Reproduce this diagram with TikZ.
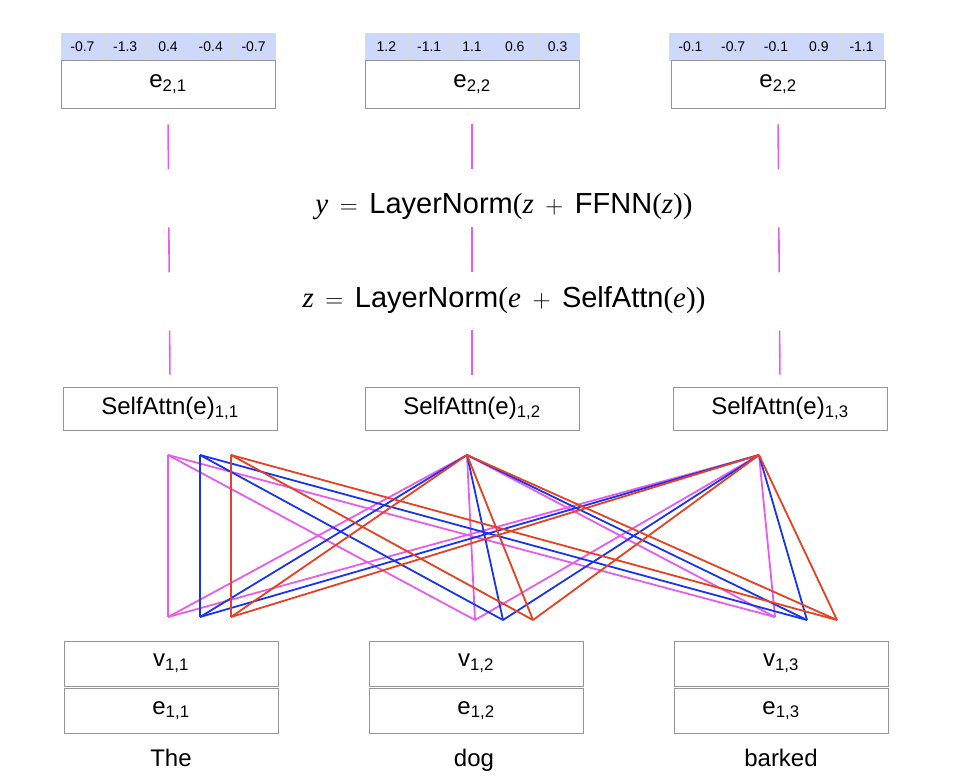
\documentclass[tikz,border=0pt]{standalone}
\usepackage{fontspec}
\setmainfont{Liberation Sans}
\newfontfamily\serifit{Liberation Serif}
\usepackage{tikz}
\usetikzlibrary{positioning}

\definecolor{cellblue}{RGB}{206,216,250}
\definecolor{attnpink}{RGB}{232,92,236}
\definecolor{attnblue}{RGB}{24,52,240}
\definecolor{attnred}{RGB}{232,64,32}
\definecolor{boxgray}{RGB}{150,150,150}
\newcommand{\mv}[1]{{\serifit\itshape #1}}
\newcommand{\fsz}[1]{\fontsize{#1}{#1}\selectfont}

\begin{document}
\begin{tikzpicture}[x=1pt, y=-1pt,
    wordbox/.style={draw=boxgray, line width=0.8pt, minimum width=214pt, minimum height=45pt, inner sep=0pt, font=\fsz{24}},
    cell/.style={draw=gray!30, fill=cellblue, line width=0.6pt, minimum width=42.8pt, minimum height=27pt, inner sep=0pt, font=\fsz{14}},
    eqn/.style={font=\fsz{29}},
    attn/.style={line width=1.8pt},
    skip/.style={attnpink, line width=1.6pt, dash pattern=on 45pt off 58pt}]
    \useasboundingbox (0,0) rectangle (954,780);

    % Vecteurs de sortie (ligne du haut)
    \foreach \v [count=\k] in {-0.7,-1.3,0.4,-0.4,-0.7}
        \node[cell] (vecA-\k) at ({61+42.8*(\k-0.5)},46.5) {\v};
    \foreach \v [count=\k] in {1.2,-1.1,1.1,0.6,0.3}
        \node[cell] (vecB-\k) at ({365+42.8*(\k-0.5)},46.5) {\v};
    \foreach \v [count=\k] in {-0.1,-0.7,-0.1,0.9,-1.1}
        \node[cell] (vecC-\k) at ({669+42.8*(\k-0.5)},46.5) {\v};

    \node[wordbox, minimum height=48pt] (out1) at (168,84) {e\textsubscript{2,1}};
    \node[wordbox, minimum height=48pt] (out2) at (472,84) {e\textsubscript{2,2}};
    \node[wordbox, minimum height=48pt] (out3) at (778,84) {e\textsubscript{2,2}};

    % Equations
    \node[eqn] (ffnn) at (504,207) {\mv{y}\hspace{0.4em}$=$\hspace{0.4em}LayerNorm{\serifit(}\mv{z}\hspace{0.4em}$+$\hspace{0.4em}FFNN{\serifit(}\mv{z}{\serifit))}};
    \node[eqn] (norm) at (504,300) {\mv{z}\hspace{0.4em}$=$\hspace{0.4em}LayerNorm{\serifit(}\mv{e}\hspace{0.4em}$+$\hspace{0.4em}SelfAttn{\serifit(}\mv{e}{\serifit))}};

    % Self-attention
    \node[wordbox, minimum height=43pt] (sa1) at (170,408.5) {SelfAttn(e)\textsubscript{1,1}};
    \node[wordbox, minimum height=43pt] (sa2) at (472,408.5) {SelfAttn(e)\textsubscript{1,2}};
    \node[wordbox, minimum height=43pt] (sa3) at (780,408.5) {SelfAttn(e)\textsubscript{1,3}};

    \foreach \i in {1,2,3}
        \draw[skip, shorten <=16pt, shorten >=12pt] (out\i.south) -- (sa\i.north);

    % Entrees
    \node[wordbox] (val1) at (171,663.5) {v\textsubscript{1,1}};
    \node[wordbox] (val2) at (476,663.5) {v\textsubscript{1,2}};
    \node[wordbox] (val3) at (781,663.5) {v\textsubscript{1,3}};
    \node[wordbox, below=1.2pt of val1] (emb1) {e\textsubscript{1,1}};
    \node[wordbox, below=1.2pt of val2] (emb2) {e\textsubscript{1,2}};
    \node[wordbox, below=1.2pt of val3] (emb3) {e\textsubscript{1,3}};
    \node[font=\fsz{24}, anchor=base] (word1) at (171,766) {The};
    \node[font=\fsz{24}, anchor=base] (word2) at (474,766) {dog};
    \node[font=\fsz{24}, anchor=base] (word3) at (781,766) {barked};

    % Points d'attache des poids d'attention
    \coordinate (t1p) at (168,455);
    \coordinate (t1b) at (200,455);
    \coordinate (t1r) at (231,455);
    \foreach \c in {p,b,r} {
        \coordinate (t2\c) at (467,455);
        \coordinate (t3\c) at (759,455);
    }
    \coordinate (b1p) at (168,617);
    \coordinate (b1b) at (200,617);
    \coordinate (b1r) at (231,617);
    \coordinate (b2p) at (475,620);
    \coordinate (b2b) at (503,620);
    \coordinate (b2r) at (533,620);
    \coordinate (b3p) at (775,617);
    \coordinate (b3b) at (807,620);
    \coordinate (b3r) at (837,620);

    \foreach \c/\col in {p/attnpink, b/attnblue, r/attnred}
        \foreach \i in {1,2,3}
            \foreach \j in {1,2,3}
                \draw[attn, \col, line join=round] (t\i\c) -- (b\j\c);
\end{tikzpicture}
\end{document}
